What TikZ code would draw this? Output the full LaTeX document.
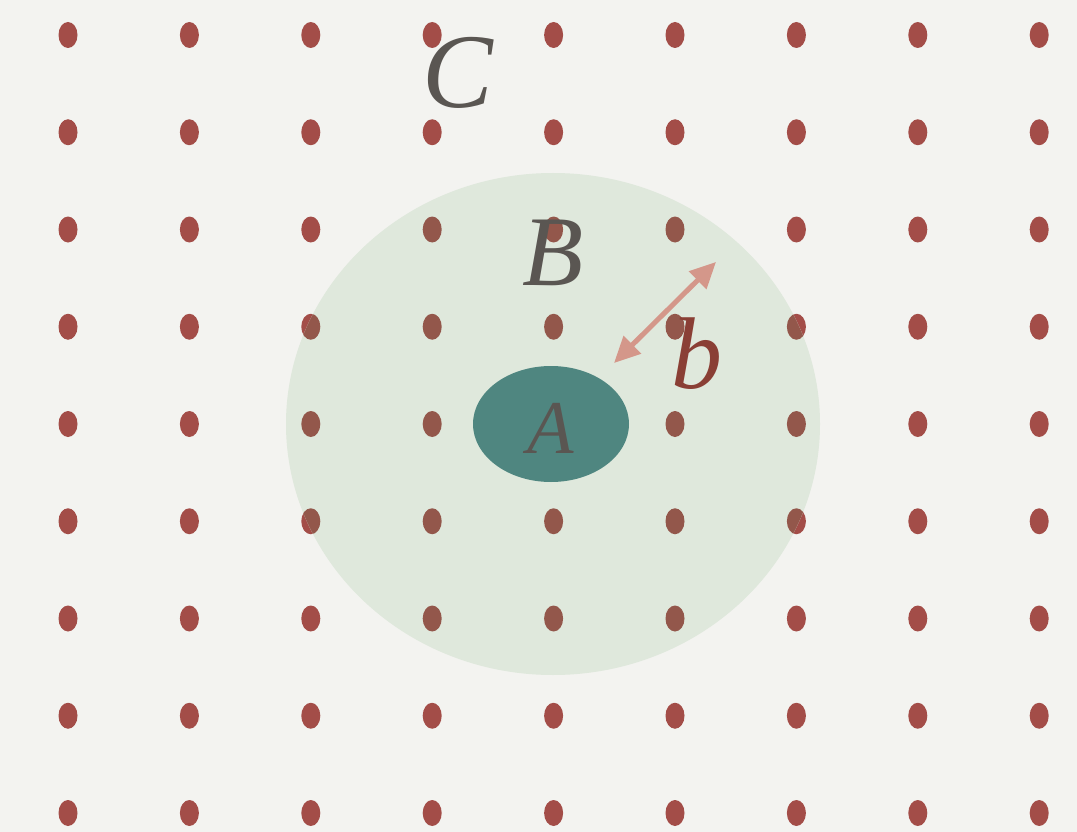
\documentclass[tikz,border=0pt]{standalone}
\usepackage{fontspec}
\setmainfont{Liberation Serif}
\usepackage{tikz}
\usetikzlibrary{arrows.meta, positioning}

\definecolor{paper}{HTML}{F3F3F0}
\definecolor{dotred}{HTML}{A34D48}
\definecolor{dotbrown}{HTML}{93574B}
\definecolor{haze}{HTML}{DFE8DC}
\definecolor{teal}{HTML}{4F8680}
\definecolor{ink}{HTML}{5A5652}
\definecolor{rust}{HTML}{8A3F35}
\definecolor{salmon}{HTML}{D4978A}

\tikzset{
	lattice/.style={fill=#1},
	lattice/.default=dotred,
	biglabel/.style={font=\itshape, text=ink, inner sep=0pt}
}

\begin{document}
\begin{tikzpicture}[x=1pt, y=-1pt]
		% Paper and frame
		\fill[paper] (0,0) rectangle (1077,832);
		\useasboundingbox (0,0) rectangle (1077,832);

		% Lattice of points
		\foreach \i in {0,...,8}
			\foreach \j in {0,...,8}
				\fill[lattice] ({68+121.4*\i},{35+97.25*\j}) ellipse [x radius=9.5, y radius=13];

		% Region B (soft disc), points seen through it
		\fill[haze] (553,424) ellipse [x radius=267, y radius=251];
		\begin{scope}
			\clip (553,424) ellipse [x radius=267, y radius=251];
			\foreach \i in {0,...,8}
				\foreach \j in {0,...,8}
					\fill[lattice=dotbrown] ({68+121.4*\i},{35+97.25*\j}) ellipse [x radius=9.5, y radius=13];
		\end{scope}

		% Region A (core)
		\fill[teal] (551,424) ellipse [x radius=78, y radius=58];

		% Labels
		\node[biglabel, font=\fontsize{106}{106}\selectfont\itshape] (labC) at (458,73) {C};
		\node[biglabel, font=\fontsize{100}{100}\selectfont\itshape] (labB) at (553,253) {B};
		\node[biglabel, font=\fontsize{76}{76}\selectfont\itshape] (labA) at (551,428) {A};
		\node[biglabel, text=rust, font=\fontsize{102}{102}\selectfont\itshape] (labb) at (697,354) {b};

		% Width b of the shell
		\coordinate (inner) at (614,363);
		\coordinate (outer) at (716,262);
		\draw[salmon, line width=5pt, {Triangle[length=26pt, width=24pt]}-{Triangle[length=26pt, width=24pt]}] (inner) -- (outer);
	\end{tikzpicture}
\end{document}
